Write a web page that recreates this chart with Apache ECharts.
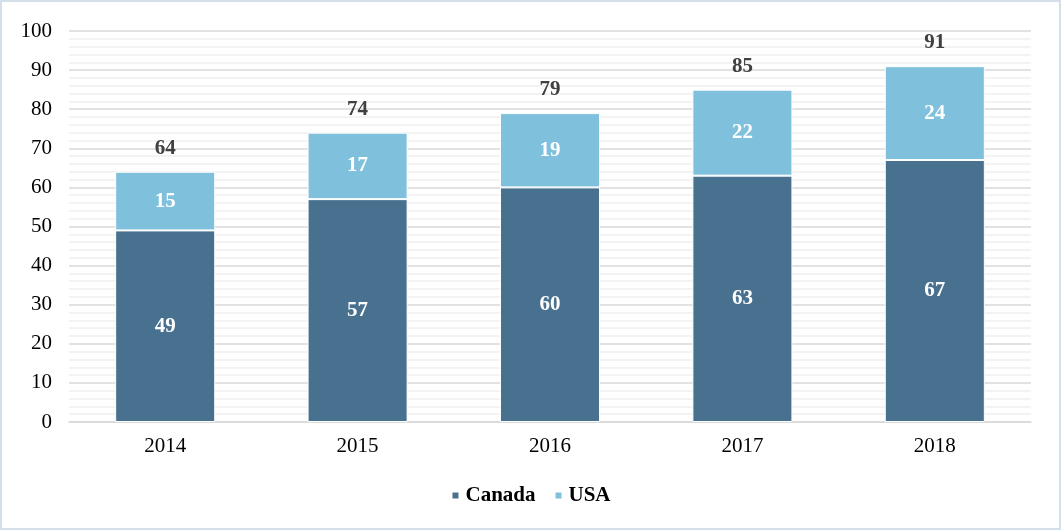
<!DOCTYPE html>
<html>
<head>
<meta charset="utf-8">
<script src="https://cdn.jsdelivr.net/npm/echarts@6/dist/echarts.min.js"></script>
<style>
  html, body { margin: 0; padding: 0; background: #fff; }
  #chart { width: 1061px; height: 530px; }
</style>
</head>
<body>
<div id="chart"></div>
<script>
const years = ['2014', '2015', '2016', '2017', '2018'];
const canada = [49, 57, 60, 63, 67];
const usa = [15, 17, 19, 22, 24];
const yTicks = { min: 0, max: 100, interval: 10 };

const totals = years.map((_, i) => canada[i] + usa[i]);
const serif = '"Liberation Serif", "Times New Roman", serif';
const fs = 21;

const chart = echarts.init(document.getElementById('chart'));
chart.setOption({
  animation: false,
  graphic: [{
    type: 'rect',
    shape: { x: 1, y: 1, width: 1059, height: 528 },
    style: { fill: 'none', stroke: '#d5dfe9', lineWidth: 2 },
    silent: true
  }],
  grid: { left: 69, right: 30, top: 31, bottom: 108 },
  legend: {
    bottom: 19,
    left: 'center',
    itemWidth: 8,
    itemHeight: 8,
    itemGap: 18,
    icon: 'rect',
    textStyle: { fontFamily: serif, fontSize: fs, fontWeight: 'bold', color: '#000', padding: [0, 0, 0, 1] },
    data: ['Canada', 'USA']
  },
  xAxis: {
    type: 'category',
    data: years,
    axisLine: { lineStyle: { color: '#d9d9d9', width: 1.5 } },
    axisTick: { show: false },
    axisLabel: { fontFamily: serif, fontSize: fs, color: '#000', margin: 14 }
  },
  yAxis: {
    type: 'value',
    min: yTicks.min,
    max: yTicks.max,
    interval: yTicks.interval,
    axisLine: { show: false },
    axisTick: { show: false },
    axisLabel: { fontFamily: serif, fontSize: fs, color: '#000', margin: 17 },
    splitLine: { lineStyle: { color: '#d9d9d9', width: 1.5 } },
    minorTick: { show: false, splitNumber: 5 },
    minorSplitLine: { show: true, lineStyle: { color: '#efefef', width: 1.5 } }
  },
  series: [
    {
      name: 'Canada',
      type: 'bar',
      stack: 'total',
      barWidth: '52%',
      data: canada,
      itemStyle: { color: '#48708f', borderColor: '#ffffff', borderWidth: 1 },
      label: {
        show: true, position: 'inside',
        fontFamily: serif, fontSize: fs, fontWeight: 'bold', color: '#fff'
      }
    },
    {
      name: 'USA',
      type: 'bar',
      stack: 'total',
      data: usa,
      itemStyle: { color: '#7fc1dc', borderColor: '#ffffff', borderWidth: 1 },
      label: {
        show: true, position: 'inside',
        fontFamily: serif, fontSize: fs, fontWeight: 'bold', color: '#fff'
      }
    },
    {
      name: 'Total',
      type: 'bar',
      stack: 'total',
      data: totals.map(() => 0),
      itemStyle: { color: 'transparent' },
      label: {
        show: true, position: 'top', distance: 13,
        formatter: p => totals[p.dataIndex],
        fontFamily: serif, fontSize: fs, fontWeight: 'bold', color: '#404040'
      },
      tooltip: { show: false }
    }
  ]
});
</script>
</body>
</html>
